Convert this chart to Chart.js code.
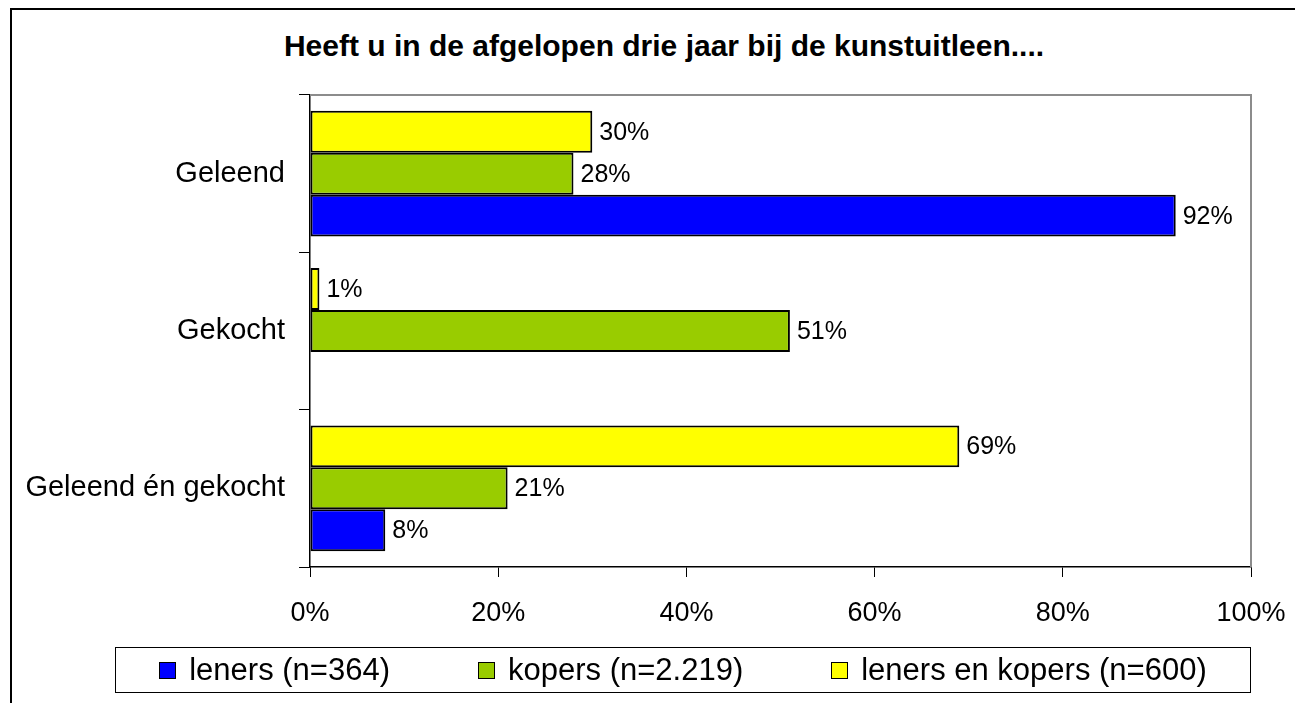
<!DOCTYPE html>
<html>
<head>
<meta charset="utf-8">
<script src="https://cdn.jsdelivr.net/npm/chart.js@4.4.1/dist/chart.umd.min.js"></script>
<style>
  body { margin: 0; background: #fff; overflow: hidden; font-family: "Liberation Sans", Arial, sans-serif; }
  .frame { position: absolute; left: 10px; top: 8px; width: 1400px; height: 800px; border: 2px solid #000; }
  #chart { position: absolute; left: 0; top: 0; }
  .title {
    position: absolute; left: 0; top: 28px; width: 1328px; line-height: 36px;
    text-align: center; font-size: 30px; font-weight: bold; color: #000; white-space: nowrap;
  }
  .legend {
    position: absolute; left: 115px; top: 647px; width: 1134px; height: 44px;
    border: 1px solid #000; display: flex; align-items: center; justify-content: center; gap: 88px;
  }
  .legend .item { display: flex; align-items: center; font-size: 31px; color: #000; white-space: nowrap; }
  .legend .box { width: 15px; height: 15px; border: 1px solid #000; margin-right: 13px; }
</style>
</head>
<body>
<div class="frame"></div>
<div class="title" id="title"></div>
<canvas id="chart" width="1295" height="703"></canvas>
<div class="legend" id="legend"></div>

<script>
const chartTitle = "Heeft u in de afgelopen drie jaar bij de kunstuitleen....";
const categories = ["Geleend", "Gekocht", "Geleend én gekocht"];

// percentages per categorie
const leners = [92, null, 8];
const kopers = [28, 51, 21];
const lenersEnKopers = [30, 1, 69];

const seriesNames = ["leners (n=364)", "kopers (n=2.219)", "leners en kopers (n=600)"];
const seriesColors = ["#0000ff", "#99cc00", "#ffff00"];
const seriesData = [leners, kopers, lenersEnKopers];

const xTicks = [0, 20, 40, 60, 80, 100];

const fontFam = '"Liberation Sans", Arial, sans-serif';

document.getElementById("title").innerText = chartTitle;

// legenda in html
const legendEl = document.getElementById("legend");
seriesNames.forEach((name, i) => {
  const item = document.createElement("div");
  item.className = "item";
  item.innerHTML = '<span class="box" style="background:' + seriesColors[i] + '"></span>' + name;
  legendEl.appendChild(item);
});

// bovenste balk = laatste reeks, dus omgekeerd
const datasets = seriesData.map((d, i) => ({
  label: seriesNames[i],
  data: d,
  backgroundColor: seriesColors[i],
  borderColor: "#000",
  borderWidth: 2,
  borderSkipped: false,
  categoryPercentage: 0.8,
  barPercentage: 1.0
})).reverse();

const plotFrame = {
  id: "plotFrame",
  beforeDatasetsDraw(chart) {
    const { ctx, chartArea: a } = chart;
    ctx.save();
    ctx.strokeStyle = "#8c8c8c";
    ctx.lineWidth = 2;
    ctx.beginPath();
    ctx.moveTo(a.left, a.top);
    ctx.lineTo(a.right, a.top);
    ctx.lineTo(a.right, a.bottom);
    ctx.stroke();
    ctx.restore();
  }
};

const valueLabels = {
  id: "valueLabels",
  afterDatasetsDraw(chart) {
    const ctx = chart.ctx;
    ctx.save();
    ctx.font = "25px " + fontFam;
    ctx.fillStyle = "#000";
    ctx.textAlign = "left";
    ctx.textBaseline = "middle";
    chart.data.datasets.forEach((ds, di) => {
      const meta = chart.getDatasetMeta(di);
      meta.data.forEach((bar, i) => {
        const v = ds.data[i];
        if (v === null || v === undefined) return;
        ctx.fillText(v + "%", bar.x + 7, bar.y + 1);
      });
    });
    ctx.restore();
  }
};

new Chart(document.getElementById("chart"), {
  type: "bar",
  data: { labels: categories, datasets: datasets },
  options: {
    indexAxis: "y",
    responsive: false,
    animation: false,
    layout: { padding: { left: 0, right: 44, top: 95, bottom: 0 } },
    plugins: {
      legend: { display: false },
      tooltip: { enabled: false }
    },
    scales: {
      x: {
        min: 0,
        max: 100,
        afterBuildTicks: s => { s.ticks = xTicks.map(v => ({ value: v })); },
        afterFit: s => { s.height = 136; s.paddingLeft = 0; s.paddingRight = 0; },
        ticks: {
          callback: v => v + "%",
          color: "#000",
          padding: 20,
          maxRotation: 0,
          font: { family: fontFam, size: 27 }
        },
        grid: { drawOnChartArea: false, tickLength: 10, color: "#000", lineWidth: 1 },
        border: { color: "#000", width: 1.5 }
      },
      y: {
        afterFit: s => { s.width = 310; s.paddingTop = 0; s.paddingBottom = 0; },
        ticks: {
          color: "#000",
          padding: 14,
          font: { family: fontFam, size: 29 }
        },
        grid: { drawOnChartArea: false, tickLength: 11, color: "#000", lineWidth: 1 },
        border: { color: "#000", width: 1.5 }
      }
    }
  },
  plugins: [plotFrame, valueLabels]
});
</script>
</body>
</html>
